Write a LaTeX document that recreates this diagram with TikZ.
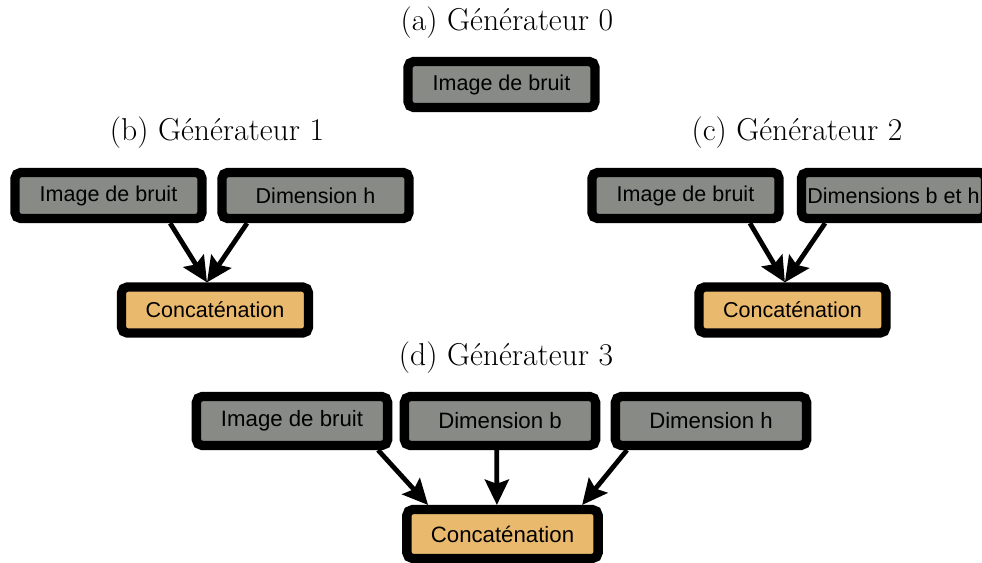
\documentclass[tikz,border=0pt]{standalone}
\usepackage{fontspec}
\newfontfamily\boxfont{Liberation Sans}
\usetikzlibrary{arrows.meta}
\definecolor{boxgray}{HTML}{888A85}
\definecolor{boxorange}{HTML}{E9B96E}

\begin{document}
\begin{tikzpicture}[x=0.025cm, y=-0.025cm,
  ttl/.style={font=\fontsize{22.5}{27}\selectfont\rmfamily},
  blk/.style={draw=black, line width=6.6pt, rounded corners=4pt, fill=boxgray,
    minimum width=4.67cm, minimum height=1.15cm, inner sep=0pt,
    font=\fontsize{15.3}{18}\selectfont\boxfont},
  cat/.style={blk, fill=boxorange},
  big/.style={minimum width=4.78cm, minimum height=1.22cm,
    font=\fontsize{15.8}{18}\selectfont\boxfont},
  arr/.style={line width=3.4pt, -{Stealth[length=18pt,width=17pt,inset=3pt]}},
]
\useasboundingbox (0,0) rectangle (982,562);
\clip (0,0) rectangle (982,562);

% (a) Generateur 0
\node[ttl] (ta) at (507,22.5) {(a) Générateur 0};
\node[blk] (imga) at (501.5,84.5) {Image de bruit};

% (b) Generateur 1
\node[ttl] (tb) at (217,132.5) {(b) Générateur 1};
\node[blk] (imgb) at (108.5,195.5) {Image de bruit};
\node[blk] (dimb) at (315.5,195.5) {Dimension h};
\node[cat] (catb) at (215,310) {Concaténation};
\draw[arr] ([xshift=1.54cm]imgb.south) -- ([xshift=-0.2cm]catb.north);
\draw[arr] ([xshift=-1.71cm]dimb.south) -- ([xshift=-0.2cm]catb.north);

% (c) Generateur 2
\node[ttl] (tc) at (797,132.5) {(c) Générateur 2};
\node[blk] (imgc) at (685.5,195.5) {Image de bruit};
\node[blk, minimum width=4.6cm] (dimc) at (893.5,195.5) {Dimensions b et h};
\node[cat] (catc) at (792.5,310) {Concaténation};
\draw[arr] ([xshift=1.61cm]imgc.south) -- ([xshift=-0.19cm]catc.north);
\draw[arr] ([xshift=-1.71cm]dimc.south) -- ([xshift=-0.19cm]catc.north);

% (d) Generateur 3
\node[ttl] (td) at (506,358) {(d) Générateur 3};
\node[blk,big] (imgd) at (292,421) {Image de bruit};
\node[blk,big] (dimbd) at (500,421) {Dimension b};
\node[blk,big] (dimhd) at (711,421) {Dimension h};
\node[cat,big] (catd) at (502.5,534) {Concaténation};
\draw[arr] ([xshift=2.15cm]imgd.south) -- ([xshift=-1.86cm]catd.north);
\draw[arr] ([xshift=-0.08cm]dimbd.south) -- ([xshift=-0.14cm]catd.north);
\draw[arr] ([xshift=-2.1cm]dimhd.south) -- ([xshift=1.99cm]catd.north);

\end{tikzpicture}
\end{document}
